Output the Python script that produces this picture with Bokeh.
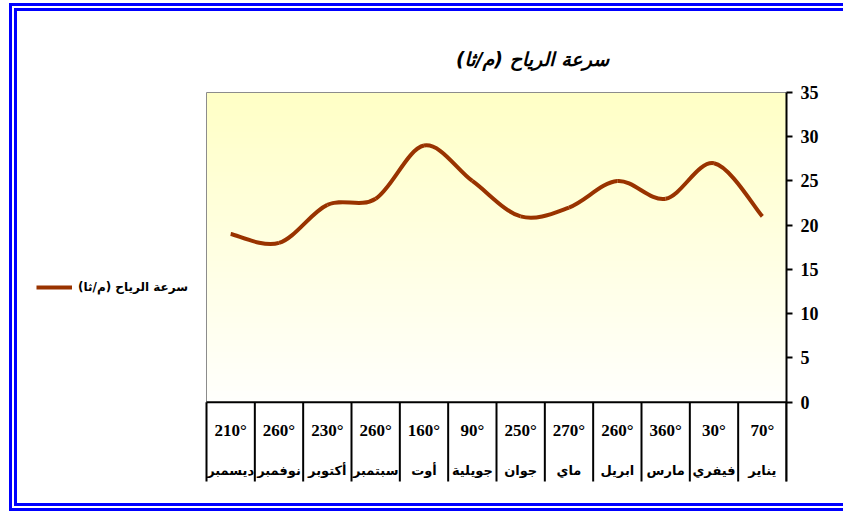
from bokeh.plotting import figure
from bokeh.models import Range1d, FixedTicker, Legend, LegendItem, ColumnDataSource, Label
from bokeh.core.properties import value
from bokeh.embed import file_html
from bokeh.resources import INLINE
import numpy as np

# ---- data (January first; drawn right-to-left) ----
months = ["يناير", "فيفري", "مارس", "ابريل", "ماي", "جوان",
          "جويلية", "أوت", "سبتمبر", "أكتوبر", "نوفمبر", "ديسمبر"]
directions = ["70°", "30°", "360°", "260°", "270°", "250°",
              "90°", "160°", "260°", "230°", "260°", "210°"]
wind_speed = [21, 27, 23, 25, 22, 21, 25, 29, 23, 22.3, 18, 19]
y_ticks = [0, 5, 10, 15, 20, 25, 30, 35]
title_text = "سرعة الرياح (م/ثا)"
series_name = "سرعة الرياح (م/ثا)"

# ---- layout: host box with a double blue border; canvas origin at page (17, 11) ----
OX, OY = 17, 11
W, H = 843 - OX, 503 - OY          # host content box
CW, CH = W + 8, H + 16             # canvas size (host border box)
PLOT_L, PLOT_R, PLOT_T, ZERO_Y, TABLE_B = 206, 786, 92, 401.7, 481   # page px
n = len(months)
Y_MAX = 35
xu = (PLOT_R - PLOT_L) / n            # px per category
yu = (ZERO_Y - PLOT_T) / Y_MAX        # px per m/s
X_LEFT = n + (PLOT_L - OX) / xu
Y_TOP = Y_MAX + (PLOT_T - OY) / yu
Y_BOTTOM = -(OY + CH - ZERO_Y) / yu
Y_TABLE = -(TABLE_B - ZERO_Y) / yu
F_BOTTOM = OY + CH                     # page y of frame bottom

p = figure(width=W, height=H, x_range=Range1d(X_LEFT, 0), y_range=Range1d(Y_BOTTOM, Y_TOP),
           output_backend="svg", toolbar_location=None,
           x_axis_location=None, y_axis_location="right",
           min_border_left=0, min_border_right=OX + CW - PLOT_R,
           min_border_top=0, min_border_bottom=0,
           outline_line_color=None, background_fill_color="white",
           border_fill_color="white")
p.styles = {"margin-left": "9px", "margin-top": "3px", "box-sizing": "content-box",
            "border-style": "double", "border-color": "#0000ff",
            "border-width": "8px 0px 8px 8px"}
p.grid.visible = False

# gradient plot background
rows = 320
img = np.empty((rows, 1), dtype=np.uint32)
view = img.view(dtype=np.uint8).reshape((rows, 1, 4))
frac = np.linspace(0.0, 1.0, rows)  # bottom -> top
view[:, 0, 0] = 255
view[:, 0, 1] = 255
view[:, 0, 2] = (253 - 55 * frac).astype(np.uint8)
view[:, 0, 3] = 255
p.image_rgba(image=[img], x=0, y=0, dw=n, dh=Y_MAX)

# grey plot-area border (top and left)
p.segment(x0=[0, n], y0=[Y_MAX, Y_MAX], x1=[n, n], y1=[Y_MAX, 0],
          line_color="#8c8c8c", line_width=1)

# category table below the plot
bounds = list(range(n + 1))
p.segment(x0=bounds, y0=[Y_TABLE] * len(bounds), x1=bounds, y1=[0] * len(bounds),
          line_color="black", line_width=2)
p.segment(x0=[0], y0=[0], x1=[n], y1=[0], line_color="black", line_width=2)

centers = [i + 0.5 for i in range(n)]
tsrc = ColumnDataSource(dict(x=centers, d=directions, m=months,
                             yd=[-3.2] * n, ym=[-7.7] * n))
p.text(x="x", y="yd", text="d", source=tsrc, text_font=value("Liberation Serif"),
       text_font_style="bold", text_font_size="17px", text_align="center",
       text_baseline="middle", text_color="black")
p.text(x="x", y="ym", text="m", source=tsrc, text_font=value("DejaVu Sans"),
       text_font_style="bold", text_font_size="13px", text_align="center",
       text_baseline="middle", text_color="black")

# smoothed line (Bezier segments through the data points)
xs = np.array(centers, dtype=float)
ys = np.array(wind_speed, dtype=float)
xp = np.concatenate([[xs[0]], xs, [xs[-1]]])
yp = np.concatenate([[ys[0]], ys, [ys[-1]]])
x0, y0 = xs[:-1], ys[:-1]
x1, y1 = xs[1:], ys[1:]
cx0 = xp[1:-2] + (xp[2:-1] - xp[:-3]) / 6
cy0 = yp[1:-2] + (yp[2:-1] - yp[:-3]) / 6
cx1 = xp[2:-1] - (xp[3:] - xp[1:-2]) / 6
cy1 = yp[2:-1] - (yp[3:] - yp[1:-2]) / 6
bez = p.bezier(x0=x0, y0=y0, x1=x1, y1=y1, cx0=cx0, cy0=cy0, cx1=cx1, cy1=cy1,
               line_color="#993300", line_width=4)

# right y axis
ax = p.yaxis[0]
ax.ticker = FixedTicker(ticks=y_ticks)
ax.bounds = (Y_TABLE, Y_MAX)
ax.axis_line_width = 2
ax.axis_line_color = "black"
ax.major_tick_line_width = 2
ax.major_tick_out = 6
ax.major_tick_in = 0
ax.minor_tick_line_color = None
ax.major_label_standoff = 8
ax.major_label_text_font = "Liberation Serif"
ax.major_label_text_font_style = "bold"
ax.major_label_text_font_size = "18px"
ax.major_label_text_color = "black"

# legend (left of the plot area)
legend = Legend(items=[LegendItem(label=series_name, renderers=[bez])],
                location=(36 - OX, F_BOTTOM - 297),
                border_line_color=None, background_fill_alpha=0,
                label_text_font="DejaVu Sans", label_text_font_style="bold",
                label_text_font_size="12px", label_text_color="black",
                glyph_width=36, glyph_height=20,
                label_standoff=6, padding=0, margin=0)
p.add_layout(legend)

# title
p.add_layout(Label(x=532 - OX, y=F_BOTTOM - 58, x_units="screen", y_units="screen",
                   text=title_text, text_font="DejaVu Sans", text_font_style="bold italic",
                   text_font_size="19px", text_align="center", text_baseline="middle",
                   text_color="black"))

open("out.html", "w").write(file_html(p, INLINE))
